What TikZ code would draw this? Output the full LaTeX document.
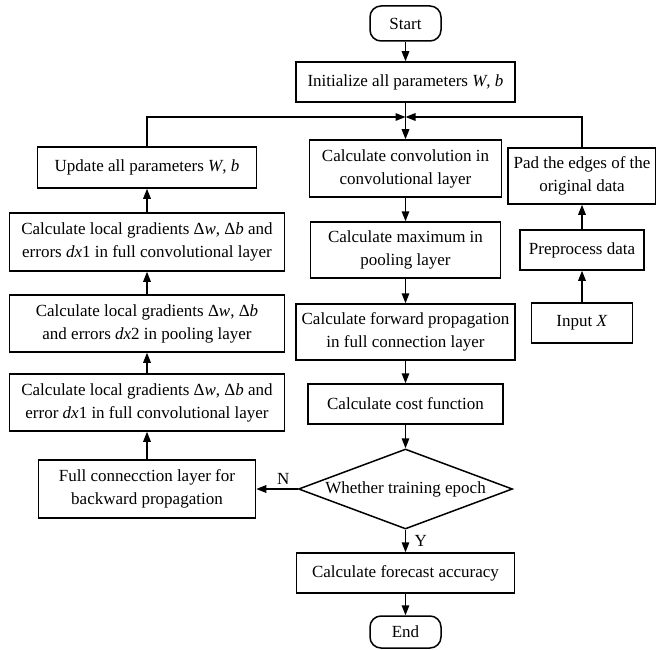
\documentclass[tikz,border=0pt]{standalone}
\usepackage{fontspec}
\setmainfont{Liberation Serif}
\usetikzlibrary{arrows.meta,shapes.geometric}

\begin{document}
\begin{tikzpicture}[x=1pt, y=-1pt, line width=1.5pt,
            font=\fontsize{17}{23}\selectfont,
            proc/.style={draw, rectangle, align=center, inner sep=0pt},
            term/.style={draw, rectangle, rounded corners=11pt, inner sep=0pt, minimum width=71pt, minimum height=35pt},
            decision/.style={draw, diamond, inner sep=0pt, minimum width=214pt, minimum height=80pt},
            arr/.style={-{Triangle[length=10pt, width=7.5pt]}}]
            % Frame to ensure alignment:
            \useasboundingbox                                          (  0.0,   0.0) rectangle (656.0, 650.0);

            % Middle column:
            \node[term]                                            (start) at (405.5,  23.5) {Start};
            \node[proc, minimum width=219pt, minimum height=40pt] (init)  at (405.5,  82.0) {Initialize all parameters \textit{W}, \textit{b}};
            \coordinate                                            (join)  at (405.5, 117.0);
            \node[proc, minimum width=192pt, minimum height=57pt] (conv)  at (405.5, 168.5) {Calculate convolution in\\convolutional layer};
            \node[proc, minimum width=190pt, minimum height=56pt] (pool)  at (405.5, 250.0) {Calculate maximum in\\pooling layer};
            \node[proc, minimum width=219pt, minimum height=56pt] (fwd)   at (405.5, 332.0) {Calculate forward propagation\\in full connection layer};
            \node[proc, minimum width=195pt, minimum height=40pt] (cost)  at (405.5, 404.0) {Calculate cost function};
            \node[decision, label=center:{Whether training epoch}]  (epoch) at (405.5, 489.0) {};
            \node[proc, minimum width=218pt, minimum height=40pt] (acc)   at (405.5, 573.0) {Calculate forecast accuracy};
            \node[term, minimum height=32pt]                       (stop)  at (405.5, 632.0) {End};

            % Left column:
            \node[proc, minimum width=219pt, minimum height=41pt] (upd)   at (147.0, 167.5) {Update all parameters \textit{W}, \textit{b}};
            \node[proc, minimum width=275pt, minimum height=58pt] (grada) at (147.0, 242.0) {Calculate local gradients Δ\textit{w}, Δ\textit{b} and\\errors \textit{dx}1 in full convolutional layer};
            \node[proc, minimum width=275pt, minimum height=57pt] (gradb) at (147.0, 323.5) {Calculate local gradients Δ\textit{w}, Δ\textit{b}\\and errors \textit{dx}2 in pooling layer};
            \node[proc, minimum width=275pt, minimum height=57pt] (gradc) at (147.0, 402.5) {Calculate local gradients Δ\textit{w}, Δ\textit{b} and\\error \textit{dx}1 in full convolutional layer};
            \node[proc, minimum width=217pt, minimum height=58pt] (back)  at (147.0, 489.0) {Full connecction layer for\\backward propagation};

            % Right column:
            \node[proc, minimum width=148pt, minimum height=56pt] (pad)   at (582.0, 176.0) {Pad the edges of the\\original data};
            \node[proc, minimum width=124pt, minimum height=40pt] (prep)  at (582.0, 250.0) {Preprocess data};
            \node[proc, minimum width=101pt, minimum height=40pt] (inp)   at (582.0, 323.0) {Input \textit{X}};

            % Connectors:
            \draw[arr] (start) -- (init);
            \draw[arr] (init)  -- (conv);
            \draw[arr] (upd.north) |- (join);
            \draw[arr] (pad.north) |- (join);
            \draw[arr] (conv)  -- (pool);
            \draw[arr] (pool)  -- (fwd);
            \draw[arr] (fwd)   -- (cost);
            \draw[arr] (cost)  -- (epoch);
            \draw[arr] (epoch) -- node[right, xshift=5pt] {Y} (acc);
            \draw[arr] (acc)   -- (stop);
            \draw[arr] (epoch) -- node[pos=0.35, above] {N} (back);
            \draw[arr] (back)  -- (gradc);
            \draw[arr] (gradc) -- (gradb);
            \draw[arr] (gradb) -- (grada);
            \draw[arr] (grada) -- (upd);
            \draw[arr] (inp)   -- (prep);
            \draw[arr] (prep)  -- (pad);
        \end{tikzpicture}
\end{document}
